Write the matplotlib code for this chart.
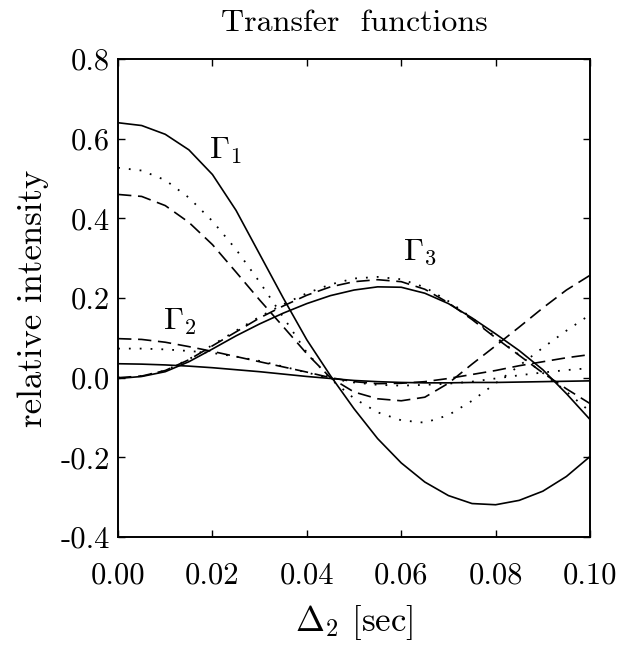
import matplotlib
matplotlib.use("Agg")
import matplotlib.pyplot as plt
from matplotlib.ticker import FormatStrFormatter, MultipleLocator

plt.rcParams['font.family'] = 'cmr10'
plt.rcParams['mathtext.fontset'] = 'cm'
plt.rcParams['axes.unicode_minus'] = False

# delay values
delta2 = [0.000, 0.005, 0.010, 0.015, 0.020, 0.025, 0.030, 0.035, 0.040, 0.045, 0.050,
          0.055, 0.060, 0.065, 0.070, 0.075, 0.080, 0.085, 0.090, 0.095, 0.100]

# Gamma_1
g1_solid = [0.640, 0.633, 0.611, 0.572, 0.510, 0.420, 0.310, 0.200, 0.095, 0.005, -0.078,
            -0.153, -0.214, -0.262, -0.296, -0.316, -0.319, -0.308, -0.285, -0.248, -0.198]
g1_dot = [0.527, 0.520, 0.496, 0.452, 0.393, 0.322, 0.240, 0.152, 0.063, -0.003, -0.052,
          -0.087, -0.107, -0.113, -0.094, -0.058, -0.014, 0.030, 0.075, 0.118, 0.158]
g1_dash = [0.460, 0.455, 0.432, 0.390, 0.334, 0.265, 0.195, 0.128, 0.060, 0.000, -0.036,
           -0.053, -0.058, -0.049, -0.014, 0.034, 0.080, 0.127, 0.175, 0.220, 0.257]

# Gamma_2
g2_solid = [0.035, 0.034, 0.032, 0.029, 0.025, 0.020, 0.015, 0.009, 0.003, -0.002, -0.007,
            -0.010, -0.012, -0.013, -0.013, -0.012, -0.012, -0.011, -0.010, -0.009, -0.008]
g2_dot = [0.073, 0.073, 0.071, 0.067, 0.062, 0.053, 0.042, 0.028, 0.013, -0.002, -0.012,
          -0.018, -0.020, -0.018, -0.015, -0.010, -0.002, 0.006, 0.013, 0.019, 0.024]
g2_dash = [0.098, 0.096, 0.089, 0.078, 0.066, 0.053, 0.040, 0.027, 0.014, 0.000, -0.010,
           -0.015, -0.014, -0.010, -0.002, 0.008, 0.018, 0.030, 0.040, 0.050, 0.058]

# Gamma_3
g3_solid = [-0.002, 0.003, 0.015, 0.040, 0.072, 0.105, 0.135, 0.162, 0.186, 0.206, 0.220,
            0.228, 0.227, 0.212, 0.186, 0.150, 0.110, 0.068, 0.020, -0.040, -0.105]
g3_dot = [0.000, 0.004, 0.018, 0.046, 0.082, 0.118, 0.153, 0.184, 0.212, 0.234, 0.249,
          0.253, 0.247, 0.227, 0.192, 0.150, 0.102, 0.057, 0.012, -0.035, -0.085]
g3_dash = [0.000, 0.004, 0.018, 0.045, 0.080, 0.115, 0.150, 0.180, 0.207, 0.228, 0.241,
           0.246, 0.241, 0.222, 0.188, 0.146, 0.100, 0.056, 0.012, -0.028, -0.065]

dot_style = (0, (1, 5))
dash_style = (0, (8, 4))

fig = plt.figure(figsize=(6.28, 6.47), dpi=100)
ax = fig.add_axes([0.188, 0.17, 0.7515, 0.7388])

for sol, dot, dash in [(g1_solid, g1_dot, g1_dash),
                       (g2_solid, g2_dot, g2_dash),
                       (g3_solid, g3_dot, g3_dash)]:
    ax.plot(delta2, sol, color='black', lw=1.2)
    ax.plot(delta2, dot, color='black', lw=1.3, linestyle=dot_style)
    ax.plot(delta2, dash, color='black', lw=1.2, linestyle=dash_style)

ax.text(0.0227, 0.57, r'$\Gamma_1$', fontsize=23, ha='center', va='center')
ax.text(0.0130, 0.14, r'$\Gamma_2$', fontsize=23, ha='center', va='center')
ax.text(0.0640, 0.315, r'$\Gamma_3$', fontsize=23, ha='center', va='center')

ax.set_xlim(0, 0.1)
ax.set_ylim(-0.4, 0.8)
ax.xaxis.set_major_locator(MultipleLocator(0.02))
ax.yaxis.set_major_locator(MultipleLocator(0.2))
ax.xaxis.set_major_formatter(FormatStrFormatter('%.2f'))
ax.yaxis.set_major_formatter(FormatStrFormatter('%.1f'))
ax.tick_params(direction='in', length=5, width=1, top=True, right=True,
               labelsize=22)
ax.tick_params(axis='x', pad=18)
ax.tick_params(axis='y', pad=6)
for s in ax.spines.values():
    s.set_linewidth(1.4)

ax.set_title('Transfer  functions', fontsize=23, pad=20)
ax.set_xlabel(r'$\Delta_2$ [sec]', fontsize=25, labelpad=10)
ax.set_ylabel('relative intensity', fontsize=25, labelpad=8)

fig.savefig('out.png', dpi=100)
